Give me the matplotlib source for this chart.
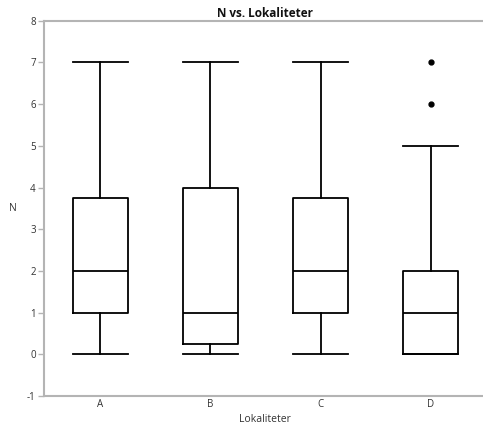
import matplotlib
matplotlib.use("Agg")
import matplotlib.pyplot as plt

categories = ["A", "B", "C", "D"]
whisker_low = [0, 0, 0, 0]
q1 = [1, 0.25, 1, 0]
medians = [2, 1, 2, 1]
q3 = [3.75, 4, 3.75, 2]
whisker_high = [7, 7, 7, 5]
outliers = [[], [], [], [7, 6]]
y_ticks = [-1, 0, 1, 2, 3, 4, 5, 6, 7, 8]

plt.rcParams['font.family'] = ['Open Sans', 'DejaVu Sans']
plt.rcParams['axes.unicode_minus'] = False

W, H = 483, 428
fig = plt.figure(figsize=(W / 100, H / 100), dpi=100)
left, right, top, bottom = 44, 486, 20.7, 396
ax = fig.add_axes([left / W, 1 - bottom / H, (right - left) / W, (bottom - top) / H])

stats = []
for i, c in enumerate(categories):
    stats.append(dict(label=c, whislo=whisker_low[i], q1=q1[i], med=medians[i],
                      q3=q3[i], whishi=whisker_high[i], fliers=outliers[i]))

lw = 1.3
ax.bxp(stats, positions=range(len(categories)), widths=0.5, showfliers=True,
       boxprops=dict(color='black', linewidth=lw),
       medianprops=dict(color='black', linewidth=lw),
       whiskerprops=dict(color='black', linewidth=lw),
       capprops=dict(color='black', linewidth=lw),
       capwidths=0.5,
       flierprops=dict(marker='o', markerfacecolor='black', markeredgecolor='black',
                       markersize=3.5, linestyle='none'))

ax.set_xlim(-0.51, 3.5)
ax.set_ylim(-1, 8)
ax.set_yticks(y_ticks)
ax.set_xticks(range(len(categories)))
ax.set_xticklabels(categories)

spine_color = '#b4b4b4'
for s in ['left', 'top', 'bottom']:
    ax.spines[s].set_color(spine_color)
    ax.spines[s].set_linewidth(1.5)
ax.spines['right'].set_visible(False)

ax.tick_params(axis='y', length=4, width=1, color=spine_color, labelsize=7, labelcolor='#333333', pad=2)
ax.tick_params(axis='x', length=0, labelsize=7, labelcolor='#333333', pad=2)

ax.set_title("N vs. Lokaliteter", fontsize=8.5, fontweight='bold', pad=3, color='#111111')
ax.set_xlabel("Lokaliteter", fontsize=7.5, color='#333333', labelpad=3)
ax.set_ylabel("N", fontsize=7.5, color='#333333', rotation=0, labelpad=10, va='center')

fig.savefig("out.png", dpi=100)
